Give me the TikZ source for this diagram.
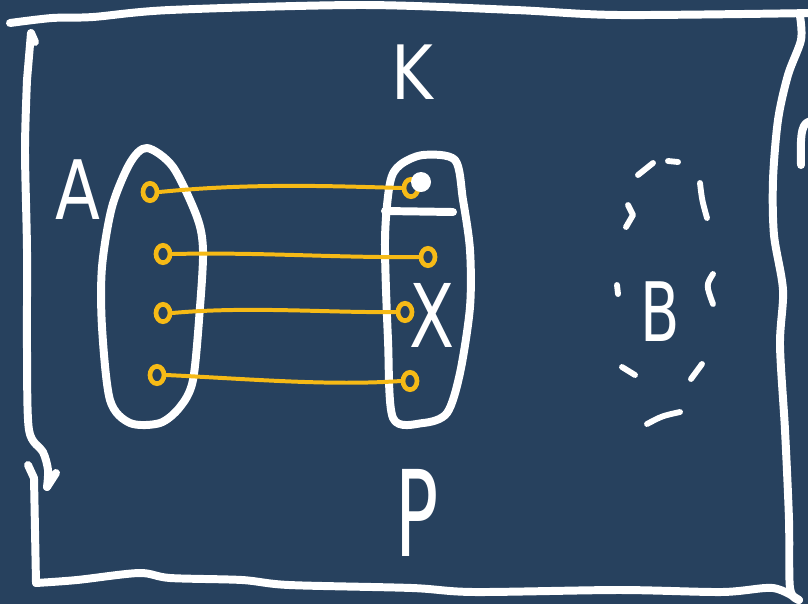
\documentclass[tikz,border=0pt]{standalone}
\usepackage{fontspec}
\usetikzlibrary{shapes.geometric}
\setmainfont{DejaVu Sans}
\definecolor{bg}{RGB}{39,65,94}
\definecolor{gold}{RGB}{246,186,22}
\begin{document}
\begin{tikzpicture}[x=0.03cm,y=-0.03cm,
  chalk/.style={white,line width=6.8pt,line cap=round,line join=round},
  thinchalk/.style={white,line width=5pt,line cap=round,line join=round},
  rope/.style={gold,line width=3.4pt,line cap=round,line join=round},
  knot/.style={ellipse,draw=gold,line width=4pt,inner sep=0pt,minimum width=0.42cm,minimum height=0.52cm},
  letter/.style={text=white,inner sep=0pt,font=\fontsize{#1}{#1}\selectfont}]
\fill[bg] (0,0) rectangle (808,604);
\useasboundingbox (0,0) rectangle (808,604);
% frame
\draw[chalk] plot[smooth] coordinates {(10,23) (52,18) (93,17) (170,10) (361,5) (515,10) (619,15) (812,13)};
\draw[chalk] plot[smooth] coordinates {(800,16) (801,40) (788,75) (778,120) (773,180) (774,235) (783,290) (780,345) (785,430) (789,520) (790,588) (799,600)};
\draw[chalk] plot[smooth] coordinates {(27,80) (25,150) (27,250) (27,350) (29,430) (43,452) (48,470) (47,487)};
\draw[chalk] (35,42) -- (31,33) -- (27,80);
\draw[chalk] (28,465) -- (34,478) -- (35,530) -- (36,583);
\draw[chalk] (47,487) -- (56,473);
\draw[chalk] plot[smooth] coordinates {(36,583) (77,580) (139,573) (170,578) (242,580) (289,585) (412,588) (474,592) (619,590) (722,592) (773,588) (799,600)};
\draw[chalk] (812,121) .. controls (802,122) and (800,130) .. (801,165);
% set A
\draw[chalk] plot[smooth cycle] coordinates {(147,148) (173,167) (197,217) (203,250) (200,307) (193,380) (180,407) (160,423) (130,423) (110,400) (102,327) (102,267) (112,207) (130,163)};
% set X
\draw[chalk] plot[smooth cycle] coordinates {(400,165) (423,155) (455,160) (463,200) (470,250) (470,307) (460,373) (447,413) (423,423) (393,418) (388,340) (385,240) (390,183)};
\draw[chalk] (385,211) -- (453,212);
% mappings
\node[knot] (a1) at (150,192) {};
\node[knot] (b1) at (411,188) {};
\node[knot] (a2) at (163,254) {};
\node[knot] (b2) at (428,257) {};
\node[knot] (a3) at (163,313) {};
\node[knot] (b3) at (405,312) {};
\node[knot] (a4) at (157,375) {};
\node[knot] (b4) at (410,381) {};
\draw[rope] (a1.east) .. controls (250,183) and (330,186) .. (b1.west);
\draw[rope] (a2.east) .. controls (260,252) and (340,258) .. (b2.west);
\draw[rope] (a3.east) .. controls (250,306) and (330,313) .. (b3.west);
\draw[rope] (a4.east) .. controls (250,379) and (330,386) .. (b4.west);
\node[circle,fill=white,minimum size=0.6cm,inner sep=0pt] (dot) at (421,182) {};
% set B (dashed)
\draw[thinchalk] (638,175) -- (653,163);
\draw[thinchalk] (668,161) -- (678,162);
\draw[thinchalk] (700,183) .. controls (702,200) .. (707,218);
\draw[thinchalk] (628,205) -- (633,215) -- (626,227);
\draw[thinchalk] (617,285) -- (618,294);
\draw[thinchalk] (713,274) .. controls (706,285) .. (713,304);
\draw[thinchalk] (622,367) -- (635,375);
\draw[thinchalk] (702,364) -- (691,379);
\draw[thinchalk] (647,424) .. controls (662,416) .. (680,412);
% letters
\node[letter=64pt,xscale=0.85,transform shape] (K) at (412,72) {K};
\node[letter=70pt,xscale=0.8,transform shape] (A) at (78,190) {A};
\node[letter=75pt,xscale=0.75,transform shape] (X) at (432,315) {X};
\node[letter=102pt,xscale=0.6,transform shape] (P) at (417,513) {P};
\node[letter=70pt,xscale=0.7,transform shape] (B) at (660,312) {B};
\end{tikzpicture}
\end{document}
